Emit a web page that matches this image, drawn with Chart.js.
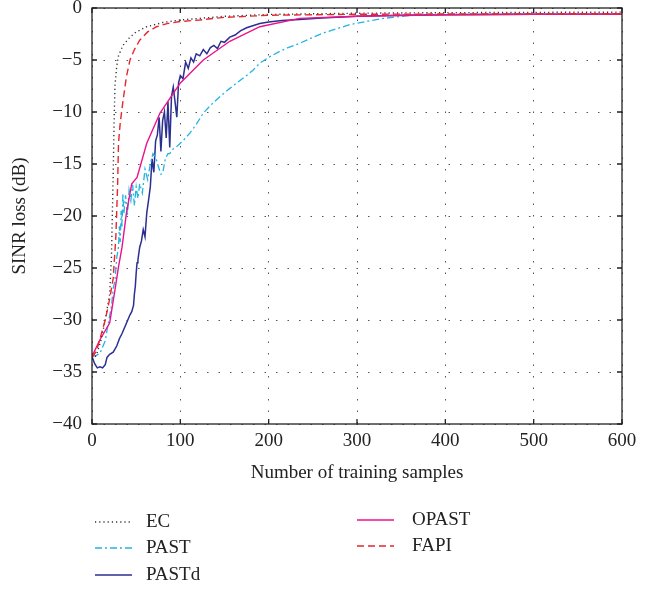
<!DOCTYPE html>
<html>
<head>
<meta charset="utf-8">
<script src="https://cdn.jsdelivr.net/npm/chart.js@4.4.0/dist/chart.umd.min.js"></script>
<style>
  html, body { margin: 0; padding: 0; background: #fff; }
</style>
</head>
<body>
<canvas id="sinrChart" width="659" height="590"></canvas>
<script>
// values
var xTicks = [0, 100, 200, 300, 400, 500, 600];
var yTicks = [0, -5, -10, -15, -20, -25, -30, -35, -40];

var ecX = [0, 5, 10, 15, 20, 22, 23, 24, 25, 26, 28, 30, 35, 43, 50, 62, 80, 100, 150, 200, 300, 400, 500, 600];
var ecY = [-33.8, -33.4, -32, -30, -27.5, -24, -20, -16, -11, -7.5, -5.6, -4.6, -3.6, -2.8, -2.3, -1.8, -1.4, -1.15, -0.8, -0.62, -0.5, -0.45, -0.42, -0.4];

var pastX = [0, 5, 9, 12, 15, 18, 22, 24, 26, 28, 30, 31, 32, 33, 34, 35, 36, 38, 40, 42, 44, 46, 48, 50, 52, 54, 57, 60, 63, 66, 69, 72, 75, 78, 80, 83, 86, 88, 91, 95, 100, 106, 111, 118, 126, 135, 145, 155, 164, 175, 182, 190, 201, 212, 222, 235, 248, 262, 277, 292, 310, 330, 350, 368, 400, 450, 500, 550, 600];
var pastY = [-33.5, -33.4, -33.2, -32.6, -32, -30.5, -28.7, -27, -26.2, -24, -23, -21, -22.5, -19.5, -21, -17.8, -19.8, -18, -20, -17.5, -18.5, -17, -19, -17.2, -18.3, -16.9, -17.8, -15.5, -16.5, -15, -14, -14.3, -15.2, -16, -15.9, -14.5, -14, -14, -13.6, -13.4, -13, -12.5, -12, -11.2, -10.1, -9.3, -8.5, -7.8, -7.2, -6.5, -6, -5.3, -4.7, -4.2, -3.8, -3.4, -2.9, -2.4, -2.0, -1.6, -1.3, -1.0, -0.8, -0.68, -0.62, -0.6, -0.6, -0.6, -0.6];

var pastdX = [0, 3, 6, 9, 12, 15, 17, 20, 24, 28, 31, 34, 38, 43, 45, 47, 48, 49, 50, 51, 52, 54, 56, 58, 60, 62, 64, 66, 68, 70, 72, 74, 76, 78, 80, 82, 84, 86, 88, 90, 92, 94, 96, 98, 100, 103, 106, 109, 112, 115, 118, 122, 126, 130, 134, 138, 142, 146, 150, 156, 162, 168, 175, 182, 190, 200, 215, 235, 260, 300, 350, 400, 450, 500, 550, 600];
var pastdY = [-33.5, -34.2, -34.6, -34.5, -34.6, -34.3, -33.6, -33.3, -33.1, -32.5, -31.8, -31.3, -30.5, -29.5, -29.2, -28.6, -27.5, -26.8, -25.5, -24.5, -24.2, -23, -22.4, -21.3, -22, -19.7, -18.5, -17.2, -14.5, -15.8, -12.8, -12.2, -10.5, -13.8, -10.8, -10, -12.5, -9, -13.4, -8.5, -7.6, -9, -10.5, -7.2, -6.5, -6.8, -5.2, -5.8, -4.8, -5.2, -4.4, -4.6, -4.0, -4.4, -3.8, -3.6, -3.9, -3.2, -3.3, -2.8, -2.6, -2.2, -1.9, -1.7, -1.5, -1.35, -1.2, -1.1, -0.95, -0.8, -0.7, -0.65, -0.62, -0.6, -0.6, -0.6];

var opastX = [0, 9, 20, 26, 30, 34, 39, 45, 51, 62, 77, 100, 126, 156, 190, 235, 300, 400, 500, 600];
var opastY = [-33.5, -31.9, -30.3, -27.1, -24.9, -23, -19.7, -16.9, -16.3, -13, -10.1, -7.2, -5, -3.2, -1.8, -1.0, -0.8, -0.65, -0.6, -0.6];

var fapiX = [0, 5, 10, 15, 20, 24, 27, 29, 30, 32, 35, 39, 43, 48, 54, 63, 73, 85, 100, 122, 150, 200, 300, 400, 600];
var fapiY = [-33.6, -33, -31.5, -30, -28, -26, -22, -17, -13, -11, -9, -6.6, -5, -4, -3.1, -2.3, -1.8, -1.5, -1.3, -1.15, -0.9, -0.7, -0.6, -0.58, -0.55];

function pts(xs, ys) {
  return xs.map(function (x, i) { return { x: x, y: ys[i] }; });
}

var serif = "'Liberation Serif', 'DejaVu Serif', serif";
Chart.defaults.font.family = serif;
Chart.defaults.font.size = 19;
Chart.defaults.color = "#222";

// where each legend entry goes: [lineStart, textX, y]
var legendSlots = [[95, 146, 522], [95, 146, 548], [95, 146, 575], [357, 412, 520], [357, 412, 546]];

var frameAndLegend = {
  id: "frameAndLegend",
  afterDraw: function (chart) {
    var ctx = chart.ctx;
    var a = chart.chartArea;
    var xs = chart.scales.x, ys = chart.scales.y;
    ctx.save();
    ctx.strokeStyle = "#222";
    ctx.lineWidth = 1.3;
    ctx.setLineDash([]);
    ctx.strokeRect(a.left, a.top, a.right - a.left, a.bottom - a.top);
    ctx.beginPath();
    xs.ticks.forEach(function (t) {
      var p = xs.getPixelForValue(t.value);
      ctx.moveTo(p, a.bottom); ctx.lineTo(p, a.bottom - 5);
      ctx.moveTo(p, a.top); ctx.lineTo(p, a.top + 5);
    });
    ys.ticks.forEach(function (t) {
      var p = ys.getPixelForValue(t.value);
      ctx.moveTo(a.left, p); ctx.lineTo(a.left + 5, p);
      ctx.moveTo(a.right, p); ctx.lineTo(a.right - 5, p);
    });
    ctx.stroke();

    // legend
    ctx.font = "19px " + serif;
    ctx.textBaseline = "middle";
    ctx.fillStyle = "#222";
    chart.data.datasets.forEach(function (ds, i) {
      var s = legendSlots[i];
      ctx.strokeStyle = ds.borderColor;
      ctx.lineWidth = ds.borderWidth;
      ctx.setLineDash(ds.borderDash || []);
      ctx.beginPath();
      ctx.moveTo(s[0], s[2]);
      ctx.lineTo(s[0] + 37, s[2]);
      ctx.stroke();
      ctx.setLineDash([]);
      ctx.fillText(ds.label, s[1], s[2]);
    });
    ctx.restore();
  }
};

var ctx = document.getElementById("sinrChart").getContext("2d");
var sinrChart = new Chart(ctx, {
  type: "line",
  data: {
    datasets: [
      { label: "EC", data: pts(ecX, ecY), borderColor: "#333333", borderWidth: 1.4, borderDash: [1.2, 3], order: 1 },
      { label: "PAST", data: pts(pastX, pastY), borderColor: "#22b4e2", borderWidth: 1.3, borderDash: [7, 3, 2, 3], order: 3 },
      { label: "PASTd", data: pts(pastdX, pastdY), borderColor: "#2b2f8f", borderWidth: 1.5, order: 4 },
      { label: "OPAST", data: pts(opastX, opastY), borderColor: "#ec118c", borderWidth: 1.4, order: 2 },
      { label: "FAPI", data: pts(fapiX, fapiY), borderColor: "#e8262c", borderWidth: 1.4, borderDash: [7, 4], order: 0 }
    ]
  },
  options: {
    responsive: false,
    animation: false,
    layout: { padding: { left: 0, top: 8, right: 37, bottom: 100 } },
    elements: { point: { radius: 0 }, line: { tension: 0, fill: false } },
    plugins: { legend: { display: false }, tooltip: { enabled: false } },
    scales: {
      x: {
        type: "linear",
        min: 0,
        max: 600,
        afterBuildTicks: function (s) { s.ticks = xTicks.map(function (v) { return { value: v }; }); },
        afterFit: function (s) { s.height = 66; s.paddingLeft = 0; s.paddingRight = 0; },
        ticks: { padding: 6, maxRotation: 0 },
        grid: { color: "#555", lineWidth: 1, drawTicks: false },
        border: { display: false, dash: [1.5, 10] },
        title: { display: true, text: "Number of training samples", padding: { top: 0, bottom: 6 } }
      },
      y: {
        type: "linear",
        min: -40,
        max: 0,
        afterBuildTicks: function (s) { s.ticks = yTicks.map(function (v) { return { value: v }; }); },
        afterFit: function (s) { s.width = 92; s.paddingTop = 0; s.paddingBottom = 0; },
        ticks: {
          padding: 10,
          callback: function (v) { return v < 0 ? "\u2212" + Math.abs(v) : String(v); }
        },
        grid: { color: "#555", lineWidth: 1, drawTicks: false },
        border: { display: false, dash: [1.5, 10] },
        title: { display: true, text: "SINR loss (dB)", padding: { top: 9, bottom: 0 } }
      }
    }
  },
  plugins: [frameAndLegend]
});
</script>
</body>
</html>
